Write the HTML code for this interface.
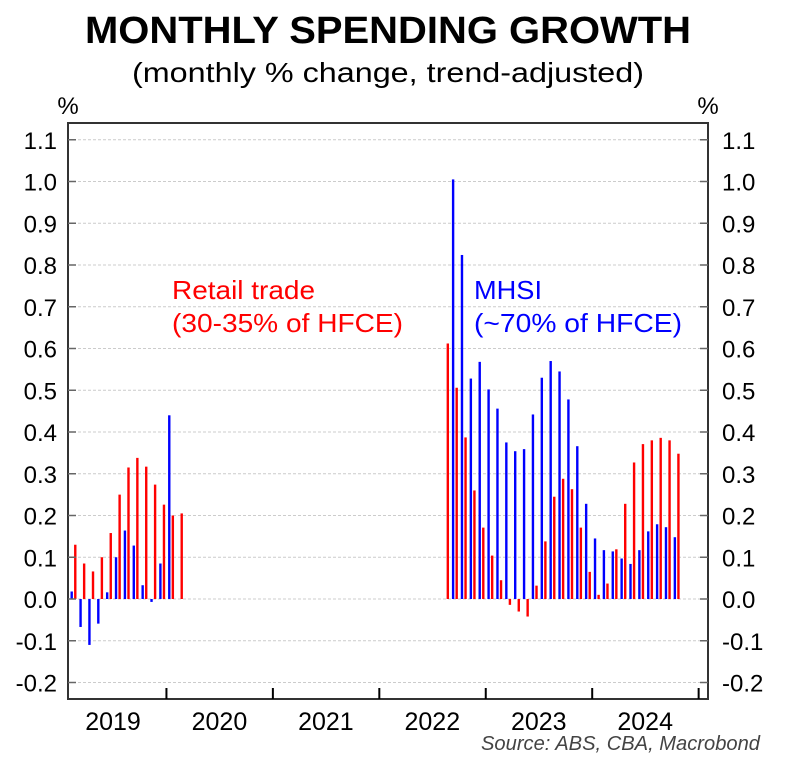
<!DOCTYPE html>
<html><head><meta charset="utf-8"><style>
html,body{margin:0;padding:0;background:#fff;}
svg{display:block;font-family:"Liberation Sans",Arial,sans-serif;}
</style></head><body>
<svg id="chart" width="789" height="769" viewBox="0 0 789 769">
<text x="388" y="43" text-anchor="middle" font-size="38" font-weight="bold" fill="#000" textLength="606" lengthAdjust="spacingAndGlyphs">MONTHLY SPENDING GROWTH</text>
<text x="388" y="82" text-anchor="middle" font-size="28" fill="#000" textLength="512" lengthAdjust="spacingAndGlyphs">(monthly % change, trend-adjusted)</text>
<text x="68" y="114" text-anchor="middle" font-size="24">%</text>
<text x="708" y="114" text-anchor="middle" font-size="24">%</text>
<g id="grid"></g>
<g id="bars"></g>
<rect x="68" y="123" width="640" height="576" fill="none" stroke="#333" stroke-width="2"/>
<g id="axes"></g>
<text x="172" y="299" font-size="26" fill="#f00" textLength="143" lengthAdjust="spacingAndGlyphs">Retail trade</text>
<text x="172" y="332" font-size="26" fill="#f00" textLength="231" lengthAdjust="spacingAndGlyphs">(30-35% of HFCE)</text>
<text x="474" y="299" font-size="26" fill="#00f" textLength="68" lengthAdjust="spacingAndGlyphs">MHSI</text>
<text x="474" y="332" font-size="26" fill="#00f" textLength="208" lengthAdjust="spacingAndGlyphs">(~70% of HFCE)</text>
<text x="760" y="750" text-anchor="end" font-size="20" font-style="italic" fill="#444" textLength="279" lengthAdjust="spacingAndGlyphs">Source: ABS, CBA, Macrobond</text>
</svg>
<script>
// Months indexed from Jan 2019 (t=0)
const retailStart = 0;
const retail2019 = [null,0.13,0.085,0.066,0.10,0.158,0.25,0.315,0.338,0.317,0.274,0.226,0.2,0.205];
const mhsi2019 = [0.018,-0.067,-0.11,-0.059,0.016,0.10,0.164,0.128,0.033,-0.007,0.085,0.44];
const lateStart = 43;
const retailLate = [0.612,0.506,0.387,0.26,0.171,0.104,0.045,-0.014,-0.03,-0.042,0.032,0.138,0.245,0.288,0.263,0.171,0.065,0.01,0.037,0.119,0.228,0.327,0.371,0.38,0.386,0.38,0.348];
const mhsiLate = [1.005,0.824,0.528,0.568,0.502,0.456,0.375,0.354,0.359,0.442,0.53,0.57,0.545,0.478,0.366,0.228,0.145,0.117,0.114,0.097,0.084,0.117,0.162,0.179,0.172,0.148];
const yTicks = [-0.2,-0.1,0.0,0.1,0.2,0.3,0.4,0.5,0.6,0.7,0.8,0.9,1.0,1.1];
const yearLabels = ["2019","2020","2021","2022","2023","2024"];

const NS = "http://www.w3.org/2000/svg";
function y(v){ return 599 - v*417.5; }
function xRed(t){ return 66.4 + 8.87*t; }
function xBlue(t){ return xRed(t) + 5.3; }
function xYear(i){ return 60 + 8.87*12*i; }
function mk(tag, attrs, parent){ const e=document.createElementNS(NS,tag); for(const k in attrs) e.setAttribute(k,attrs[k]); parent.appendChild(e); return e; }

const grid=document.getElementById('grid'), axes=document.getElementById('axes'), bars=document.getElementById('bars');
yTicks.forEach(v=>{
  const g=mk('line',{x1:68,x2:708,y1:y(v),y2:y(v),stroke:'#ccc','stroke-width':1,'stroke-dasharray':'3,2'},grid);
  
  
  mk('line',{x1:68,x2:76,y1:y(v),y2:y(v),stroke:'#666','stroke-width':1.5},axes);
  mk('line',{x1:700,x2:708,y1:y(v),y2:y(v),stroke:'#666','stroke-width':1.5},axes);
  const lab=v.toFixed(1);
  const l=mk('text',{x:57,y:y(v)+9,'text-anchor':'end','font-size':24,fill:'#000'},axes);
  l.textContent=lab;
  
  
  const r=mk('text',{x:722,y:y(v)+9,'text-anchor':'start','font-size':24,fill:'#000'},axes);
  r.textContent=lab;
  
  
});
for(let i=1;i<=6;i++){
  mk('line',{x1:xYear(i),x2:xYear(i),y1:699,y2:688,stroke:'#000','stroke-width':2},axes);
}
yearLabels.forEach((s,i)=>{
  const t=mk('text',{x:xYear(i)+53,y:730,'text-anchor':'middle','font-size':25,fill:'#000'},axes);
  t.textContent=s;
  
  
});
function drawBar(x,v,color,name){
  if(v===null||v===undefined) return;
  const top=Math.min(y(v),y(0)), h=Math.abs(y(v)-y(0));
  const b=mk('rect',{x:x-1.2,y:top,width:2.4,height:Math.max(h,0.5),fill:color},bars);
  
  
}
retail2019.forEach((v,i)=>drawBar(xRed(retailStart+i),v,'#f00','retail-bar'));
mhsi2019.forEach((v,i)=>drawBar(xBlue(retailStart+i),v,'#00f','mhsi-bar'));
retailLate.forEach((v,i)=>drawBar(xRed(lateStart+i),v,'#f00','retail-bar'));
mhsiLate.forEach((v,i)=>drawBar(xBlue(lateStart+i),v,'#00f','mhsi-bar'));
</script>
</body></html>
